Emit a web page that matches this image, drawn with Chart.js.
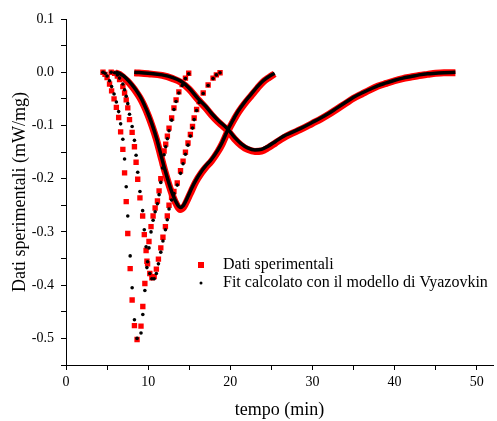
<!DOCTYPE html>
<html lang="it">
<head>
<meta charset="UTF-8">
<title>Dati sperimentali e fit Vyazovkin</title>
<script src="https://cdn.jsdelivr.net/npm/chart.js"></script>
<style>
  html, body { margin: 0; padding: 0; background: #fff; }
  #wrap { position: relative; width: 497px; height: 421px; }
</style>
</head>
<body>
<div id="wrap"><canvas id="dsc"></canvas></div>
<script>
// curva 1 (piu' veloce) - punti sparsi
const t1   = [4.5, 4.75, 5.0, 5.3, 5.55, 5.85, 6.13, 6.41, 6.65, 6.92, 7.13, 7.33, 7.52, 7.81, 8.05, 8.33, 8.65,
              9.13, 9.35, 9.6, 9.85, 10.1, 10.35, 10.6, 10.85, 11.13, 11.33, 11.54, 11.75, 11.94, 12.14, 12.34, 12.54,
              12.86, 13.14, 13.4, 13.74, 14.14, 14.54, 14.94];
const exp1 = [0, -0.004, -0.01, -0.022, -0.035, -0.05, -0.066, -0.085, -0.112, -0.145, -0.189, -0.243, -0.303, -0.369, -0.428, -0.476, -0.502,
              -0.477, -0.44, -0.397, -0.355, -0.318, -0.29, -0.27, -0.255, -0.242, -0.223, -0.2, -0.172, -0.148, -0.135, -0.12, -0.105,
              -0.086, -0.067, -0.052, -0.037, -0.023, -0.011, -0.002];
const fit1 = [0, -0.002, -0.007, -0.016, -0.027, -0.041, -0.056, -0.074, -0.097, -0.126, -0.163, -0.215, -0.27, -0.345, -0.405, -0.465, -0.5,
              -0.49, -0.455, -0.41, -0.367, -0.33, -0.3, -0.278, -0.262, -0.247, -0.23, -0.207, -0.18, -0.155, -0.14, -0.125, -0.11,
              -0.09, -0.07, -0.055, -0.039, -0.025, -0.012, -0.003];

// curva 2 - punti sparsi
const t2   = [5.5, 5.92, 6.25, 6.52, 6.92, 7.13, 7.33, 7.52, 7.73, 8.05, 8.33, 8.53, 8.73, 9.0, 9.33, 9.53, 9.75, 9.93, 10.2, 10.45,
              10.73, 11.0, 11.25, 11.54, 11.8, 12.1, 12.33, 12.54, 12.85, 13.14, 13.54, 13.94, 14.25, 14.54, 14.85, 15.14, 15.4,
              15.6, 15.9, 16.2, 16.7, 17.3, 17.9, 18.3, 18.75];
const exp2 = [0, -0.002, -0.007, -0.014, -0.027, -0.039, -0.052, -0.067, -0.089, -0.113, -0.14, -0.169, -0.201, -0.236, -0.27, -0.305, -0.335, -0.36, -0.378, -0.386,
              -0.384, -0.37, -0.351, -0.33, -0.31, -0.29, -0.27, -0.25, -0.235, -0.224, -0.208, -0.185, -0.167, -0.15, -0.133, -0.117, -0.102,
              -0.086, -0.07, -0.055, -0.039, -0.024, -0.011, -0.005, -0.001];
const fit2 = [0, -0.001, -0.005, -0.011, -0.022, -0.033, -0.045, -0.059, -0.079, -0.102, -0.128, -0.156, -0.188, -0.224, -0.26, -0.296, -0.328, -0.356, -0.378, -0.388,
              -0.388, -0.378, -0.36, -0.338, -0.317, -0.296, -0.277, -0.257, -0.24, -0.228, -0.212, -0.19, -0.172, -0.154, -0.137, -0.12, -0.105,
              -0.089, -0.072, -0.057, -0.04, -0.025, -0.012, -0.005, -0.001];

// curva 3 - punti fitti
const t3   = [6.0, 6.5, 7.0, 7.5, 8.0, 8.5, 9.0, 9.5, 10.0, 10.5, 11.0, 11.5, 12.0, 12.5, 13.0, 13.5, 13.9, 14.3, 14.8, 15.3, 15.8,
              16.5, 17.0, 17.7, 18.5, 19.0, 19.7, 20.5, 21.0, 21.7, 22.5, 23.3, 24.0, 24.7, 25.4];
const exp3 = [-0.001, -0.004, -0.01, -0.017, -0.026, -0.036, -0.048, -0.063, -0.081, -0.102, -0.126, -0.155, -0.184, -0.21, -0.233, -0.25, -0.258, -0.254, -0.239, -0.222, -0.206,
              -0.189, -0.179, -0.167, -0.149, -0.135, -0.111, -0.088, -0.075, -0.06, -0.045, -0.03, -0.018, -0.01, -0.003];
const fit3 = [0, -0.002, -0.007, -0.014, -0.023, -0.033, -0.045, -0.06, -0.078, -0.099, -0.123, -0.152, -0.181, -0.207, -0.23, -0.247, -0.254, -0.25, -0.235, -0.218, -0.203,
              -0.186, -0.176, -0.164, -0.146, -0.132, -0.108, -0.085, -0.072, -0.057, -0.042, -0.027, -0.016, -0.008, -0.002];

// curva 4 (piu' lenta) - punti fitti
const t4   = [8.3, 10.0, 11.7, 13.0, 14.0, 15.0, 16.1, 17.0, 17.7, 18.5, 19.7, 20.5, 21.3, 22.1, 23.0, 23.8, 24.6, 25.5, 26.5, 27.5,
              28.5, 30.0, 31.0, 32.0, 33.0, 34.0, 35.0, 36.0, 37.0, 38.0, 39.0, 40.0, 41.0, 42.0, 43.0, 44.0, 45.0, 46.0, 47.4];
const exp4 = [-0.001, -0.003, -0.006, -0.012, -0.019, -0.032, -0.052, -0.067, -0.08, -0.093, -0.11, -0.125, -0.137, -0.145, -0.149, -0.148, -0.142, -0.133, -0.123, -0.115,
              -0.108, -0.096, -0.088, -0.079, -0.069, -0.059, -0.049, -0.041, -0.033, -0.026, -0.021, -0.016, -0.012, -0.009, -0.006, -0.004, -0.002, -0.001, -0.001];
const fit4 = [0, -0.002, -0.005, -0.01, -0.017, -0.03, -0.05, -0.064, -0.077, -0.09, -0.107, -0.122, -0.134, -0.142, -0.146, -0.145, -0.139, -0.13, -0.12, -0.113,
              -0.106, -0.094, -0.086, -0.077, -0.067, -0.057, -0.047, -0.039, -0.032, -0.025, -0.02, -0.015, -0.011, -0.008, -0.005, -0.003, -0.002, -0.001, 0];

// assi
const xMajor = [0, 10, 20, 30, 40, 50];
const xMinor = [5, 15, 25, 35, 45];
const yMajor = [0.1, 0.0, -0.1, -0.2, -0.3, -0.4, -0.5];
const yMinor = [0.05, -0.05, -0.15, -0.25, -0.35, -0.45, -0.55];
const legendLabels = ['Dati sperimentali', 'Fit calcolato con il modello di Vyazovkin'];

const RED = '#ff0000';
const BLACK = '#000000';

function pts(t, v) {
    return t.map((x, i) => ({ x: x, y: v[i] }));
}

// marcatori per la legenda
function marker(draw, w, h) {
    const c = document.createElement('canvas');
    c.width = w; c.height = h;
    draw(c.getContext('2d'));
    return c;
}
const redMark = marker(g => { g.fillStyle = RED; g.fillRect(0, 0, 6, 6); }, 6, 6);
const dotMark = marker(g => { g.fillStyle = BLACK; g.beginPath(); g.arc(2, 2, 1.5, 0, Math.PI * 2); g.fill(); }, 4, 4);

function dotSet(t, v) {
    return { data: pts(t, v), showLine: false, pointStyle: 'circle', pointRadius: 1.8,
             backgroundColor: BLACK, borderWidth: 0, pointHoverRadius: 1.8 };
}
function squareSet(t, v) {
    return { data: pts(t, v), showLine: false, pointStyle: 'rect', pointRadius: 3.8,
             backgroundColor: RED, borderWidth: 0, pointHoverRadius: 3.8 };
}
function bandSet(t, v, color, width) {
    return { data: pts(t, v), showLine: true, pointRadius: 0, pointHoverRadius: 0,
             borderColor: color, borderWidth: width, cubicInterpolationMode: 'monotone', fill: false };
}

// sposta la legenda dentro l'area del grafico
const legendSpot = {
    id: 'legendSpot',
    afterLayout(chart) {
        const lg = chart.legend;
        lg.left = 185; lg.top = 255; lg.right = 495; lg.bottom = 320;
        lg.width = lg.right - lg.left; lg.height = lg.bottom - lg.top;
    }
};

Chart.defaults.font.family = "'Liberation Serif', 'Times New Roman', serif";
Chart.defaults.color = '#000';

const ctx = document.getElementById('dsc').getContext('2d');
new Chart(ctx, {
    type: 'scatter',
    data: {
        datasets: [
            dotSet(t1, fit1),
            dotSet(t2, fit2),
            bandSet(t3, fit3, BLACK, 3.5),
            bandSet(t4, fit4, BLACK, 3.5),
            squareSet(t1, exp1),
            squareSet(t2, exp2),
            bandSet(t3, exp3, RED, 7),
            bandSet(t4, exp4, RED, 7)
        ]
    },
    options: {
        responsive: true,
        maintainAspectRatio: false,
        animation: false,
        layout: { padding: { top: 19, right: 0, bottom: 0, left: 0 } },
        plugins: {
            tooltip: { enabled: false },
            legend: {
                position: 'chartArea',
                align: 'start',
                labels: {
                    usePointStyle: true,
                    pointStyleWidth: 28,
                    boxHeight: 16,
                    padding: 2,
                    font: { size: 16 },
                    color: '#000',
                    generateLabels: () => [
                        { text: legendLabels[0], pointStyle: redMark, datasetIndex: 4, fontColor: '#000', lineWidth: 0, hidden: false },
                        { text: legendLabels[1], pointStyle: dotMark, datasetIndex: 0, fontColor: '#000', lineWidth: 0, hidden: false }
                    ]
                }
            }
        },
        scales: {
            x: {
                type: 'linear',
                min: 0,
                max: 52,
                afterBuildTicks: s => { s.ticks = xMajor.concat(xMinor).sort((a, b) => a - b).map(v => ({ value: v })); },
                afterFit: s => { s.height = 56; },
                border: { display: true, color: '#000', width: 1 },
                grid: { drawOnChartArea: false, drawTicks: true, tickLength: 5, color: '#000' },
                ticks: {
                    autoSkip: false, maxRotation: 0, padding: 4,
                    font: { size: 14 }, color: '#000',
                    callback: v => xMajor.includes(v) ? String(v) : ''
                },
                title: { display: true, text: 'tempo (min)', font: { size: 18 }, color: '#000', padding: { top: 4, bottom: 0 } }
            },
            y: {
                type: 'linear',
                min: -0.55,
                max: 0.1,
                afterBuildTicks: s => { s.ticks = yMajor.concat(yMinor).sort((a, b) => b - a).map(v => ({ value: v })); },
                afterFit: s => { s.width = 66; },
                border: { display: true, color: '#000', width: 1 },
                grid: { drawOnChartArea: false, drawTicks: true, tickLength: 5, color: '#000' },
                ticks: {
                    autoSkip: false, padding: 7,
                    font: { size: 14 }, color: '#000',
                    callback: v => yMajor.includes(v) ? v.toFixed(1) : ''
                },
                title: { display: true, text: 'Dati sperimentali (mW/mg)', font: { size: 18 }, color: '#000', padding: { top: 9, bottom: 0 } }
            }
        }
    },
    plugins: [legendSpot]
});
</script>
</body>
</html>
